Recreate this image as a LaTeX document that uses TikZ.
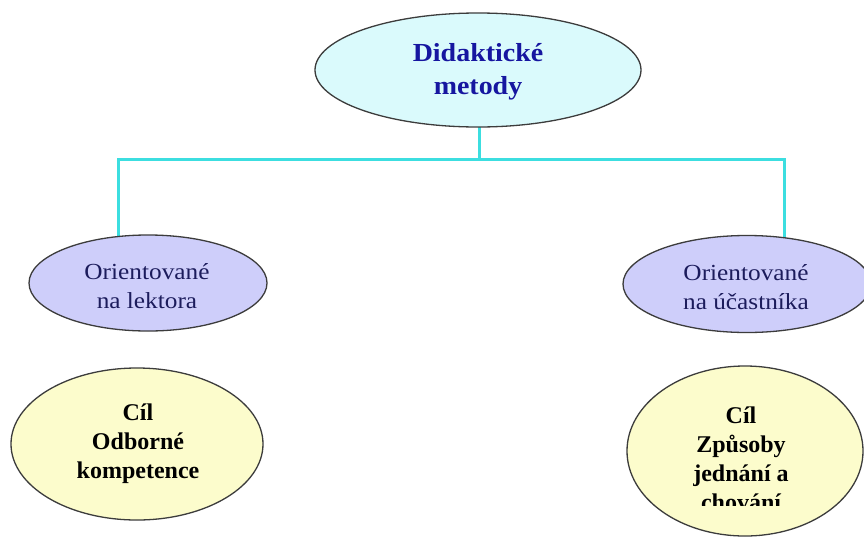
\documentclass[tikz,border=0pt]{standalone}
\usepackage{fontspec}
\usetikzlibrary{shapes.geometric}
\newfontfamily\topfont[FakeStretch=1.075]{Liberation Serif}
\newfontfamily\midfont[FakeStretch=1.1]{Liberation Serif}
\newfontfamily\botfont{Liberation Serif}
\definecolor{topfill}{RGB}{218,250,252}
\definecolor{midfill}{RGB}{206,206,250}
\definecolor{botfill}{RGB}{252,252,204}
\definecolor{linkcol}{RGB}{60,222,224}
\definecolor{topink}{RGB}{22,22,160}
\definecolor{midink}{RGB}{28,28,92}
\definecolor{rimcol}{RGB}{60,60,60}
\tikzset{
  oval/.style={ellipse, draw=rimcol, line width=1.3pt, inner sep=0pt},
  topoval/.style={oval, fill=topfill, minimum width=326pt, minimum height=114pt},
  midoval/.style={oval, fill=midfill, minimum width=238pt, minimum height=96pt},
  botoval/.style={oval, fill=botfill},
  toptext/.style={align=center, text=topink, font=\topfont\bfseries\fontsize{26}{33}\selectfont},
  midtext/.style={align=center, text=midink, font=\midfont\fontsize{23}{29}\selectfont},
  bottext/.style={align=center, text=black, font=\botfont\bfseries\fontsize{24}{29}\selectfont},
  link/.style={draw=linkcol, line width=3pt}
}
\begin{document}
\begin{tikzpicture}[x=1pt,y=-1pt]
\useasboundingbox[fill=white] (0,0) rectangle (864,536);
% connectors first
\coordinate (jl) at (118,159);
\coordinate (jr) at (784,159);
\coordinate (jm) at (479,159);
\coordinate (jt) at (479,120);
\coordinate (el) at (118,240);
\coordinate (er) at (784,240);
\draw[link] (jt) -- (jm);
\draw[link, line join=miter] (el) -- (jl) -- (jr) -- (er);
% nodes
\node[topoval] (top) at (478,70) {};
\node[toptext] (toptxt) at (478,72) {Didaktické\\metody};
\node[midoval] (left) at (148,283) {};
\node[midtext] (lefttxt) at (147,286) {Orientované\\na lektora};
\node[midoval, minimum width=248pt, minimum height=97pt] (right) at (747,284) {};
\node[midtext] (righttxt) at (746,287) {Orientované\\na účastníka};
\node[botoval, minimum width=252pt, minimum height=152pt] (bl) at (137,444) {};
\node[bottext] (bltxt) at (138,444) {Cíl\\Odborné\\kompetence};
\node[botoval, minimum width=236pt, minimum height=170pt] (br) at (745,451) {};
\begin{scope}
\clip (600,360) rectangle (864,505);
\node[bottext] (brtxt) at (741,459) {Cíl\\Způsoby\\jednání a\\chování};
\end{scope}
\end{tikzpicture}
\end{document}
